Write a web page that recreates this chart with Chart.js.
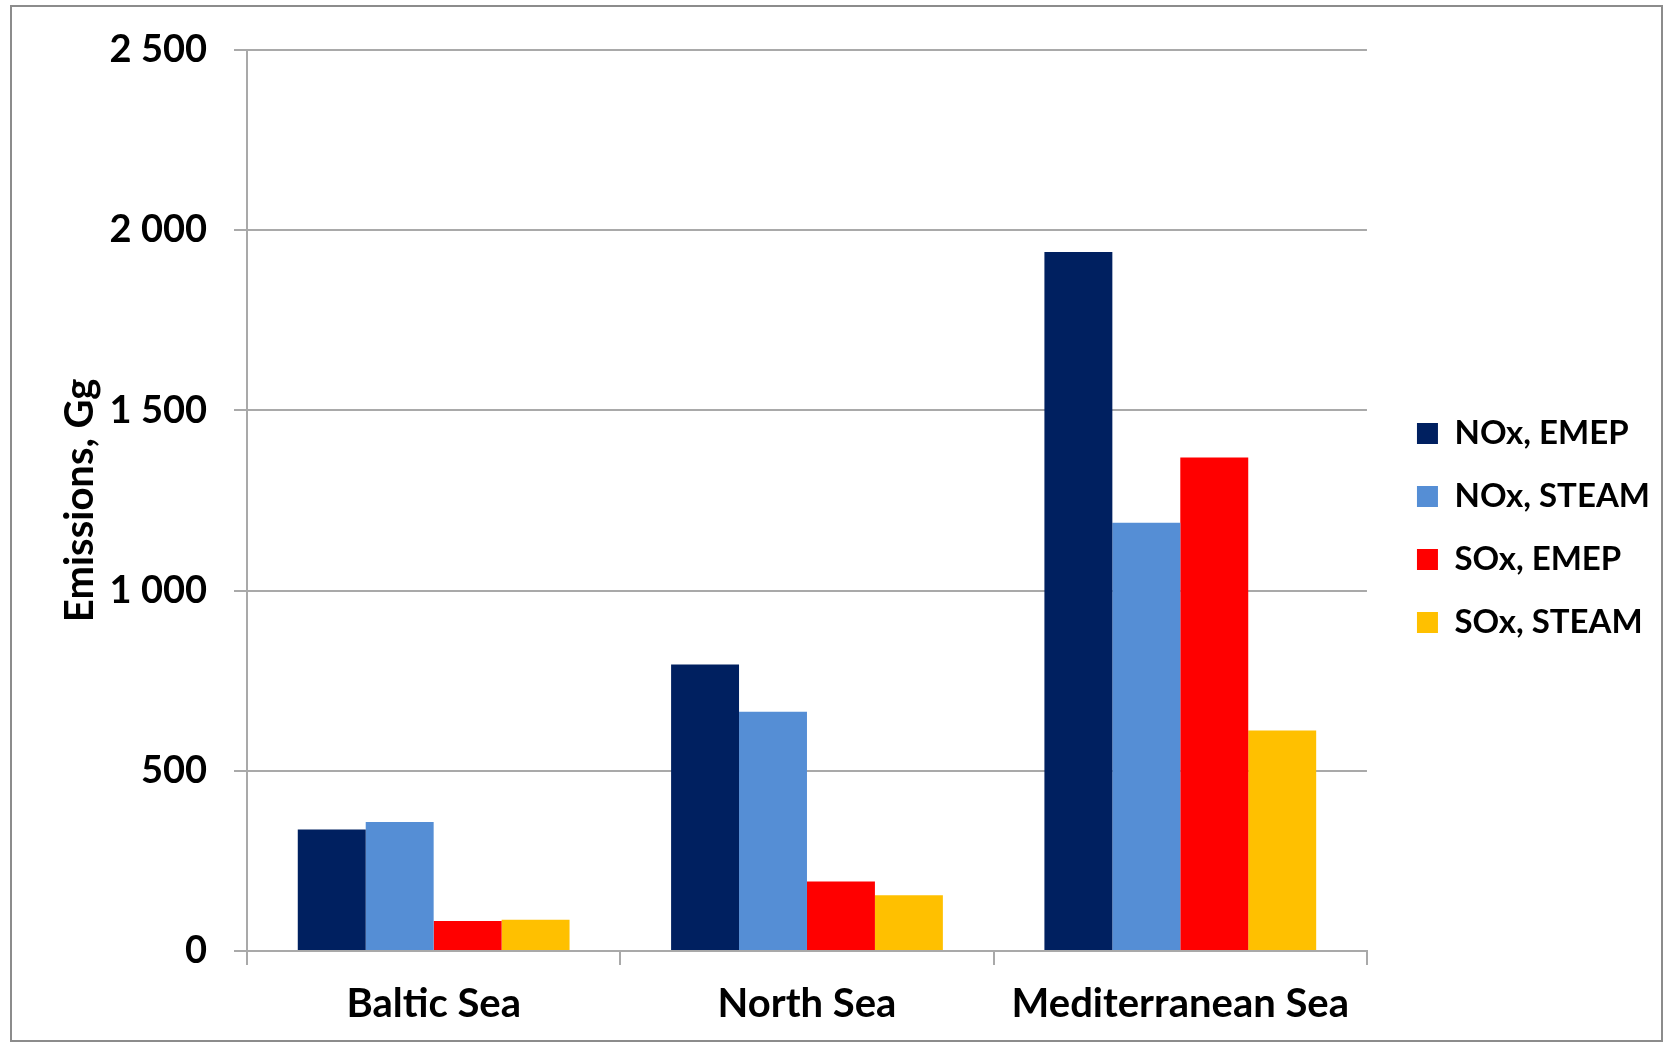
<!DOCTYPE html>
<html>
<head>
<meta charset="utf-8">
<title>Emissions</title>
<script src="https://cdn.jsdelivr.net/npm/chart.js@4.4.1/dist/chart.umd.min.js"></script>
<style>
  html, body { margin: 0; padding: 0; background: #fff; }
  #wrap { width: 1665px; height: 1045px; }
</style>
</head>
<body>
<div id="wrap"><canvas id="chartCanvas" width="1665" height="1045"></canvas></div>
<script>
const seas = ["Baltic Sea", "North Sea", "Mediterranean Sea"];
const seriesNames = ["NOx, EMEP", "NOx, STEAM", "SOx, EMEP", "SOx, STEAM"];
const noxEmep = [337, 795, 1939];
const noxSteam = [358, 664, 1188];
const soxEmep = [83, 193, 1369];
const soxSteam = [87, 155, 612];
const yTicks = [0, 500, 1000, 1500, 2000, 2500];

const colors = ["#002060", "#558ED5", "#FF0000", "#FFC000"];
const FONT = "Lato, 'Open Sans', sans-serif";
const gridGray = "#a9a9a9";

// space as thousands separator: 2500 -> "2 500"
const fmt = (v) => String(v).replace(/\B(?=(\d{3})+(?!\d))/g, " ");

// thin grey frame round the whole chart
const frame = {
  id: "frame",
  afterDraw(chart) {
    const ctx = chart.ctx;
    ctx.save();
    ctx.strokeStyle = "#8c8c8c";
    ctx.lineWidth = 2;
    ctx.strokeRect(11, 6, chart.width - 14, chart.height - 10);
    ctx.restore();
  },
};

// push the legend a little away from the plot
const legendNudge = {
  id: "legendNudge",
  afterLayout(chart) {
    const lg = chart.legend;
    if (!lg) return;
    lg.left += 20;
    lg.right += 20;
    lg.top -= 19;
    lg.bottom -= 19;
  },
};

const all = [noxEmep, noxSteam, soxEmep, soxSteam];

new Chart(document.getElementById("chartCanvas").getContext("2d"), {
  type: "bar",
  data: {
    labels: seas,
    datasets: seriesNames.map((name, i) => ({
      label: name,
      data: all[i],
      backgroundColor: colors[i],
      borderWidth: 0,
      categoryPercentage: 0.728,
      barPercentage: 1.0,
    })),
  },
  options: {
    responsive: false,
    animation: false,
    layout: { padding: { top: 49, left: 0, right: 25, bottom: 0 } },
    plugins: {
      tooltip: { enabled: false },
      legend: {
        position: "right",
        align: "center",
        labels: {
          color: "#000",
          boxWidth: 21,
          boxHeight: 21,
          padding: 30,
          font: { family: FONT, size: 33, weight: "bold" },
        },
      },
    },
    scales: {
      x: {
        afterFit(scale) { scale.height = 94; },
        border: { color: gridGray, width: 2 },
        grid: {
          drawOnChartArea: false,
          drawTicks: true,
          tickLength: 14,
          color: gridGray,
          lineWidth: 2,
        },
        ticks: {
          color: "#000",
          padding: 15,
          font: { family: FONT, size: 40, weight: "bold" },
        },
      },
      y: {
        min: 0,
        max: 2500,
        afterFit(scale) { scale.width = 247; },
        afterBuildTicks(scale) { scale.ticks = yTicks.map((v) => ({ value: v })); },
        border: { color: gridGray, width: 2 },
        grid: { color: gridGray, lineWidth: 2, tickLength: 13 },
        ticks: {
          color: "#000",
          padding: 27,
          callback: (v) => fmt(v),
          font: { family: FONT, size: 38, weight: "bold" },
        },
        title: {
          display: true,
          text: "Emissions, Gg",
          color: "#000",
          padding: { top: 56 },
          font: { family: FONT, size: 40, weight: "bold" },
        },
      },
    },
  },
  plugins: [frame, legendNudge],
});
</script>
</body>
</html>
